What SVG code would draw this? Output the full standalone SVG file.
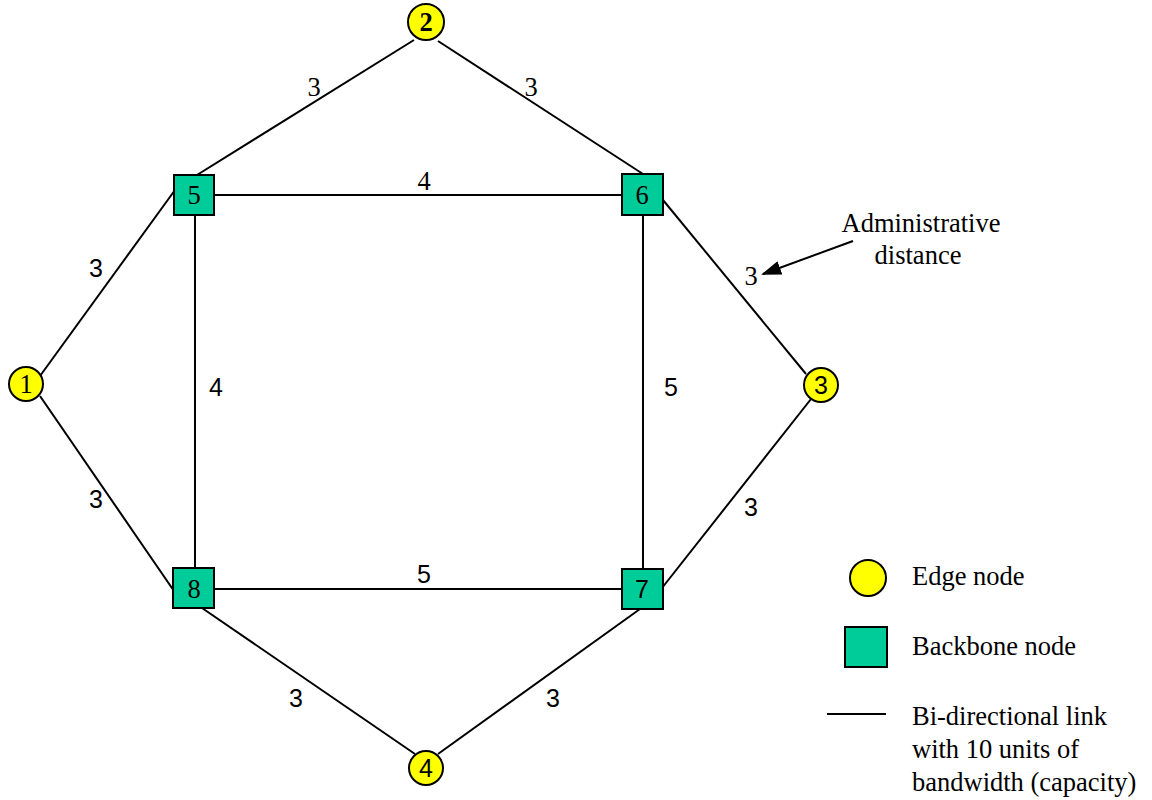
<svg xmlns="http://www.w3.org/2000/svg" width="1152" height="800" viewBox="0 0 1152 800">
<style>
.edge{stroke:#000;stroke-width:2;fill:none}
.en{fill:#ffff00;stroke:#000;stroke-width:2}
.bb{fill:#00cc99;stroke:#000;stroke-width:2}
.serif{font-family:"Liberation Serif","Times New Roman",serif;font-size:26.5px;fill:#000}
.sans{font-family:"Liberation Sans",Arial,sans-serif;font-size:25px;fill:#000}
.c{text-anchor:middle}
</style>
<defs>
<marker id="ah" markerWidth="20" markerHeight="14" refX="18" refY="7" orient="auto" markerUnits="userSpaceOnUse" viewBox="0 0 20 14">
<path d="M0,0 L20,7 L0,14 z" fill="#000"/>
</marker>
</defs>
<rect width="1152" height="800" fill="#fff"/>
<g id="connectors">
<line class="edge" x1="40" y1="376" x2="175" y2="190"/>
<line class="edge" x1="40" y1="396" x2="174" y2="591"/>
<line class="edge" x1="414" y1="40" x2="197" y2="175"/>
<line class="edge" x1="438" y1="41" x2="643" y2="174"/>
<line class="edge" x1="214" y1="195" x2="622" y2="195"/>
<line class="edge" x1="214" y1="589" x2="622" y2="589"/>
<line class="edge" x1="195" y1="215" x2="195" y2="569"/>
<line class="edge" x1="643" y1="215" x2="643" y2="569"/>
<line class="edge" x1="663" y1="200" x2="806" y2="374"/>
<line class="edge" x1="811" y1="399" x2="662" y2="588"/>
<line class="edge" x1="202" y1="608" x2="415" y2="754"/>
<line class="edge" x1="640" y1="609" x2="438" y2="754"/>
<line stroke="#000" stroke-width="2" x1="853" y1="241" x2="763" y2="274" marker-end="url(#ah)"/>
</g>
<g id="edge-labels">
<text class="serif c" x="314" y="96">3</text>
<text class="serif c" x="531" y="96">3</text>
<text class="serif c" x="424" y="190">4</text>
<text class="sans c" x="96" y="277">3</text>
<text class="sans c" x="216" y="396">4</text>
<text class="sans c" x="96" y="508">3</text>
<text class="sans c" x="671" y="396">5</text>
<text class="serif c" x="751" y="285">3</text>
<text class="sans c" x="751" y="516">3</text>
<text class="sans c" x="424" y="583">5</text>
<text class="sans c" x="296" y="707">3</text>
<text class="sans c" x="553" y="707">3</text>
</g>
<g id="node1"><circle class="en" cx="26" cy="384" r="17"/><text class="serif c" x="26" y="393">1</text></g>
<g id="node2"><circle class="en" cx="426" cy="22" r="18"/><text class="serif c" x="426" y="31" font-weight="bold">2</text></g>
<g id="node3"><circle class="en" cx="821" cy="385" r="17"/><text class="sans c" x="821" y="394">3</text></g>
<g id="node4"><circle class="en" cx="426" cy="768" r="17"/><text class="sans c" x="426" y="777">4</text></g>
<g id="node5"><rect class="bb" x="174" y="175" width="40" height="40"/><text class="serif c" x="194" y="204">5</text></g>
<g id="node6"><rect class="bb" x="622" y="174" width="41" height="41"/><text class="serif c" x="642" y="204">6</text></g>
<g id="node7"><rect class="bb" x="622" y="569" width="41" height="40"/><text class="sans c" x="642" y="598">7</text></g>
<g id="node8"><rect class="bb" x="173" y="568" width="41" height="40"/><text class="serif c" x="194" y="598">8</text></g>
<g id="annotation">
<text class="serif c" x="921" y="232">Administrative</text>
<text class="serif c" x="918" y="264">distance</text>
</g>
<g id="legend">
<circle class="en" cx="868" cy="578" r="18"/>
<text class="serif" x="912" y="585">Edge node</text>
<rect class="bb" x="845" y="627" width="42" height="40"/>
<text class="serif" x="912" y="655">Backbone node</text>
<line stroke="#000" stroke-width="2" x1="827" y1="714" x2="886" y2="714"/>
<text class="serif" x="912" y="725">Bi-directional link</text>
<text class="serif" x="912" y="758">with 10 units of</text>
<text class="serif" x="912" y="791">bandwidth (capacity)</text>
</g>
</svg>
